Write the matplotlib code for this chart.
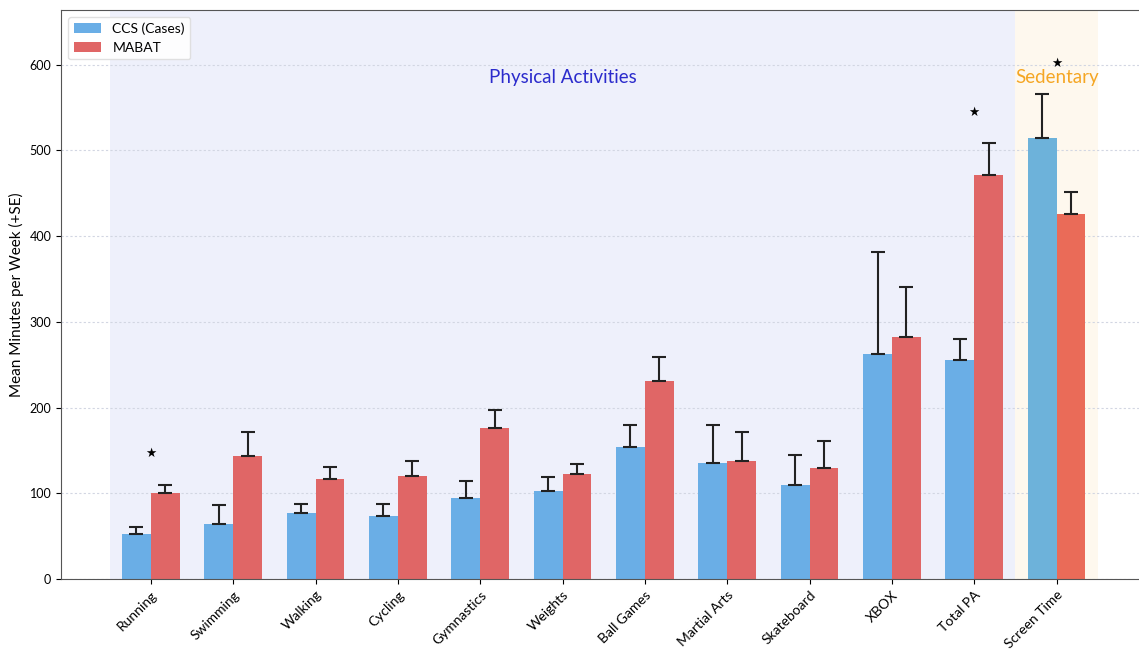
import matplotlib
matplotlib.use("Agg")
import matplotlib.pyplot as plt
import numpy as np

plt.rcParams['font.family'] = ['Lato', 'DejaVu Sans']

categories = ["Running", "Swimming", "Walking", "Cycling", "Gymnastics", "Weights",
              "Ball Games", "Martial Arts", "Skateboard", "XBOX", "Total PA", "Screen Time"]
ccs_mean = [53, 64, 77, 74, 95, 103, 154, 135, 110, 263, 255, 515]
ccs_se = [8, 22, 11, 13, 19, 16, 26, 45, 35, 118, 25, 51]
mabat_mean = [100, 144, 117, 120, 176, 122, 231, 138, 130, 282, 471, 426]
mabat_se = [10, 28, 14, 18, 21, 12, 28, 33, 31, 59, 38, 26]
star_labels = ["Running", "Total PA", "Screen Time"]
star_heights = [146, 544, 601]
yticks = [0, 100, 200, 300, 400, 500, 600]

fig = plt.figure(figsize=(11.39, 6.52), dpi=100)
ax = fig.add_axes([0.0536, 0.112, 0.9464, 0.873])

x = np.arange(len(categories))
w = 0.35
blue = ["#6AAEE6"] * 11 + ["#6DB2DA"]
red = ["#E06666"] * 11 + ["#EA6B58"]

ax.axvspan(-0.5, 10.5, color="#EEF0FB", zorder=0, lw=0)
ax.axvspan(10.5, 11.5, color="#FEF8EE", zorder=0, lw=0)

ax.bar(x - w/2, ccs_mean, w, color=blue, label="CCS (Cases)", zorder=2,
       yerr=[np.zeros(len(ccs_se)), ccs_se], capsize=5,
       error_kw=dict(ecolor="#222222", elinewidth=1.5, capthick=1.5))
ax.bar(x + w/2, mabat_mean, w, color=red, label="MABAT", zorder=2,
       yerr=[np.zeros(len(mabat_se)), mabat_se], capsize=5,
       error_kw=dict(ecolor="#222222", elinewidth=1.5, capthick=1.5))

for lab, h in zip(star_labels, star_heights):
    ax.text(categories.index(lab), h, "★", ha="center", va="center",
            fontsize=9, color="black", family="DejaVu Sans", zorder=3)

ax.text(5, 585, "Physical Activities", ha="center", va="center",
        fontsize=13.5, color="#2B2BCC", zorder=3)
ax.text(11, 585, "Sedentary", ha="center", va="center",
        fontsize=13.5, color="#F5A623", zorder=3)

ax.set_xlim(-1.09, 12.0)
ax.set_ylim(0, 664)
ax.set_yticks(yticks)
ax.set_yticklabels([str(t) for t in yticks], fontsize=9)
ax.set_xticks(x)
ax.set_xticklabels(categories, rotation=45, ha="right", rotation_mode="anchor", fontsize=10)
ax.set_ylabel("Mean Minutes per Week (+SE)", fontsize=11)
ax.yaxis.grid(True, linestyle=(0, (2, 2)), color="#D2D6E2", linewidth=0.8, zorder=1)
ax.set_axisbelow(True)
for s in ax.spines.values():
    s.set_color("#555555")
ax.spines["right"].set_visible(False)
ax.legend(loc="upper left", fontsize=10, frameon=True, framealpha=0.9,
          edgecolor="#DDDDDD", fancybox=True)

fig.savefig("out.png", dpi=100)
